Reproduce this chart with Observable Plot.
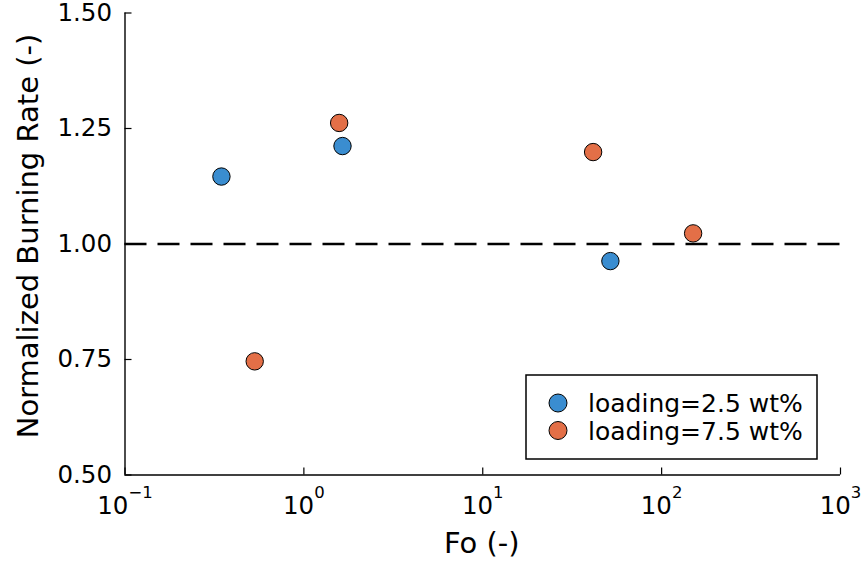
<!DOCTYPE html>
<html>
<head>
<meta charset="utf-8">
<script src="https://cdn.jsdelivr.net/npm/d3@7"></script>
<script src="https://cdn.jsdelivr.net/npm/@observablehq/plot@0.6"></script>
<style>
  html, body { margin: 0; padding: 0; background: white; }
  #chart { width: 862px; height: 563px; }
</style>
</head>
<body>
<div id="chart"></div>
<script>
// ---- data ----
const seriesNames = ["loading=2.5 wt%", "loading=7.5 wt%"];
const seriesColors = ["#3A8DD0", "#E36F47"];
const fo25 = [0.346, 1.644, 51.7];
const rate25 = [1.146, 1.212, 0.963];
const fo75 = [0.531, 1.575, 41.4, 150];
const rate75 = [0.746, 1.262, 1.199, 1.023];
const xTicks = [0.1, 1, 10, 100, 1000];
const xTickExponents = ["−1", "0", "1", "2", "3"];
const yTicks = [0.5, 0.75, 1.0, 1.25, 1.5];
const yTickLabels = ["0.50", "0.75", "1.00", "1.25", "1.50"];
const xDomain = [0.1, 1000];
const yDomain = [0.5, 1.5];
const referenceLevel = 1.0;
const xLabel = "Fo (-)";
const yLabel = "Normalized Burning Rate (-)";

const rows = [
  ...fo25.map((f, i) => ({fo: f, rate: rate25[i], series: seriesNames[0]})),
  ...fo75.map((f, i) => ({fo: f, rate: rate75[i], series: seriesNames[1]}))
];

const W = 862, H = 563;
const mL = 124.5, mR = 22, mT = 12.5, mB = 88.5;

const chart = Plot.plot({
  width: W,
  height: H,
  marginLeft: mL,
  marginRight: mR,
  marginTop: mT,
  marginBottom: mB,
  style: {fontFamily: "'DejaVu Sans', sans-serif", fontSize: "24.5px", background: "white", color: "black"},
  x: {type: "log", domain: xDomain},
  y: {domain: yDomain},
  color: {domain: seriesNames, range: seriesColors},
  marks: [
    Plot.ruleY([referenceLevel], {stroke: "black", strokeWidth: 2.6, strokeDasharray: "22,11"}),
    Plot.ruleX([xDomain[0]], {stroke: "black", strokeWidth: 1.4}),
    Plot.ruleY([yDomain[0]], {stroke: "black", strokeWidth: 1.4}),
    Plot.axisY({ticks: yTicks, tickSize: -7, tickPadding: 20, strokeWidth: 1.2,
      tickFormat: (d) => yTickLabels[yTicks.indexOf(d)], label: null}),
    Plot.axisX({ticks: xTicks, tickSize: -7, tickPadding: 29, strokeWidth: 1.2,
      tickFormat: (d) => "10|" + xTickExponents[xTicks.indexOf(d)], label: null}),
    Plot.dot(rows, {x: "fo", y: "rate", fill: "series", r: 8.7, stroke: "black", strokeWidth: 1}),
    Plot.text([yLabel], {frameAnchor: "left", rotate: -90, dx: -87.5, dy: -8, lineAnchor: "bottom",
      textAnchor: "middle", fontSize: 29, fill: "black"}),
    Plot.text([xLabel], {frameAnchor: "bottom", dx: -1, dy: 77.5, lineAnchor: "bottom",
      textAnchor: "middle", fontSize: 29, fill: "black"})
  ]
});

// superscript exponents on x tick labels
d3.select(chart).selectAll('g[aria-label="x-axis tick label"] text').each(function() {
  const t = d3.select(this);
  const s = t.text();
  if (!s.includes("|")) return;
  const [base, exp] = s.split("|");
  t.text(null);
  t.append("tspan").text(base);
  t.append("tspan").attr("dy", "-16").attr("font-size", "16.5px").text(exp);
});

// legend (inside frame, bottom-right)
const lgW = 291, lgH = 84;
const lgX = W - mR - 23 - lgW;
const lgY = H - mB - 15.5 - lgH;
const lg = d3.select(chart).append("g").attr("aria-label", "legend");
lg.append("rect").attr("x", lgX).attr("y", lgY).attr("width", lgW).attr("height", lgH)
  .attr("fill", "white").attr("stroke", "black").attr("stroke-width", 1.5);
seriesNames.forEach((name, i) => {
  const cy = lgY + 28 + i * 27.5;
  lg.append("circle").attr("cx", lgX + 32).attr("cy", cy).attr("r", 9)
    .attr("fill", seriesColors[i]).attr("stroke", "black").attr("stroke-width", 1);
  lg.append("text").attr("x", lgX + 62).attr("y", cy + 9)
    .attr("text-anchor", "start")
    .attr("font-family", "'DejaVu Sans', sans-serif").attr("font-size", "25px").attr("fill", "black")
    .text(name);
});

document.getElementById("chart").appendChild(chart);
</script>
</body>
</html>
